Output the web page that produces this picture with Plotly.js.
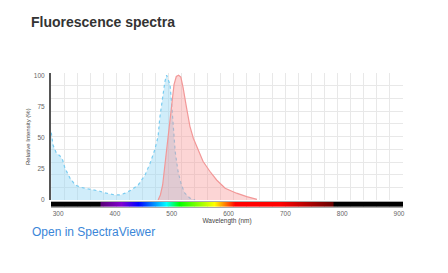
<!DOCTYPE html>
<html>
<head>
<meta charset="utf-8">
<script src="https://cdn.plot.ly/plotly-3.0.1.min.js"></script>
<style>
  html, body { margin: 0; padding: 0; background: #fff; }
  #chart { width: 448px; height: 273px; }
</style>
</head>
<body>
<div id="chart"></div>
<script>
// Excitation spectrum (blue, dotted)
const exWavelength = [288, 291, 297, 303, 308, 312, 321, 330, 341, 356, 371, 385, 400, 409, 418, 429, 441, 453, 462, 470, 476, 479, 484, 488, 491, 497, 500, 503, 506, 511, 517, 523, 532, 541];
const exIntensity  = [54, 44, 37.5, 35.5, 32, 25.5, 17.5, 12, 10, 8.8, 7.2, 5.4, 4, 4, 5.4, 8, 12, 20, 29.5, 40, 51, 66, 82, 95, 100, 92.5, 76, 55, 39, 23, 12, 5.4, 1.4, 0];

// Emission spectrum (red, solid)
const emWavelength = [476, 480, 484, 488, 494, 500, 504, 508, 512, 516, 520, 526, 532, 538, 547, 555, 567, 579, 594, 614, 632, 650];
const emIntensity  = [0, 4, 12, 28, 55, 76, 92.5, 99, 100, 98.5, 90, 74, 59, 49.5, 39, 31, 23, 16, 9.4, 5.4, 2.7, 0.5];

// Visible-spectrum colour strip
const stripWavelength = [287, 372, 375, 410, 440, 490, 512, 575, 612, 690, 782, 786, 907];
const stripColor = ['#000000', '#000000', '#5a0078', '#8000d0', '#0000ff', '#00ffff', '#00ff00', '#ffff00', '#ff0000', '#ff0000', '#6a0000', '#000000', '#000000'];

const xTicks = [300, 400, 500, 600, 700, 800, 900];
const yTicks = [0, 25, 50, 75, 100];

const xRange = [287.5, 907];
const yRange = [-0.3, 101.8];

const sMin = Math.min(...stripWavelength), sMax = Math.max(...stripWavelength);
const stripScale = stripWavelength.map((w, i) => [(w - sMin) / (sMax - sMin), stripColor[i]]);

const traces = [
  {
    type: 'heatmap',
    x: stripWavelength,
    y: [0, 1],
    z: [stripWavelength, stripWavelength],
    zmin: sMin, zmax: sMax,
    colorscale: stripScale,
    zsmooth: 'best',
    showscale: false,
    hoverinfo: 'skip',
    xaxis: 'x', yaxis: 'y2'
  },
  {
    type: 'scatter', mode: 'lines',
    x: exWavelength, y: exIntensity,
    fill: 'tozeroy',
    fillcolor: 'rgba(150,215,245,0.45)',
    line: { color: '#7accf0', width: 1.2, dash: 'dot' },
    xaxis: 'x', yaxis: 'y',
    showlegend: false, hoverinfo: 'skip'
  },
  {
    type: 'scatter', mode: 'lines',
    x: emWavelength, y: emIntensity,
    fill: 'tozeroy',
    fillcolor: 'rgba(248,150,150,0.4)',
    line: { color: '#f29898', width: 1.2 },
    xaxis: 'x', yaxis: 'y',
    showlegend: false, hoverinfo: 'skip'
  }
];

const layout = {
  width: 448, height: 273,
  margin: { l: 51, r: 45, t: 73, b: 66 },
  paper_bgcolor: '#ffffff',
  plot_bgcolor: '#ffffff',
  showlegend: false,
  font: { family: 'Liberation Sans, Arial, sans-serif', color: '#555' },
  title: {
    text: 'Fluorescence spectra',
    xref: 'container', yref: 'container',
    x: 31 / 448, xanchor: 'left',
    y: 1 - 22 / 273, yanchor: 'middle',
    font: { family: 'Liberation Sans, Arial, sans-serif', size: 14, color: '#333333', weight: 700 }
  },
  xaxis: {
    anchor: 'y2',
    range: xRange,
    tickvals: xTicks,
    showgrid: false,
    zeroline: false,
    showline: true, mirror: true,
    linecolor: '#aaaaaa', linewidth: 1,
    ticks: '',
    tickfont: { size: 6.5, color: '#666' },
    minor: { tick0: xRange[0], dtick: (xRange[1] - xRange[0]) / 27, showgrid: true, gridcolor: '#e8e8e8', gridwidth: 1, ticks: '' },
    title: { text: 'Wavelength (nm)', font: { size: 6.5, color: '#444' }, standoff: 2 }
  },
  yaxis: {
    domain: [0.05, 1],
    anchor: 'x',
    range: yRange,
    tickvals: yTicks,
    showgrid: false,
    zeroline: false,
    showline: true, linecolor: '#555555', linewidth: 2,
    ticks: 'outside', ticklen: 3, tickcolor: 'rgba(0,0,0,0)',
    tickfont: { size: 6.5, color: '#666' },
    minor: { tick0: yRange[0], dtick: (yRange[1] - yRange[0]) / 10, showgrid: true, gridcolor: '#e8e8e8', gridwidth: 1, ticks: '' },
    title: { text: 'Relative Intensity (%)', font: { size: 6, color: '#444' }, standoff: 3 }
  },
  yaxis2: {
    domain: [0, 0.04],
    anchor: 'x',
    range: [0, 1],
    showgrid: false, zeroline: false,
    showticklabels: false, ticks: ''
  },
  annotations: [
    {
      text: 'Open in SpectraViewer',
      xref: 'paper', yref: 'paper',
      x: (30 - 51) / 352, xanchor: 'left',
      y: (207 - 232) / 134, yanchor: 'middle',
      showarrow: false,
      font: { family: 'Liberation Sans, Arial, sans-serif', size: 12, color: '#3a86d8' }
    }
  ]
};

Plotly.newPlot('chart', traces, layout, { displayModeBar: false, staticPlot: true });
</script>
</body>
</html>
